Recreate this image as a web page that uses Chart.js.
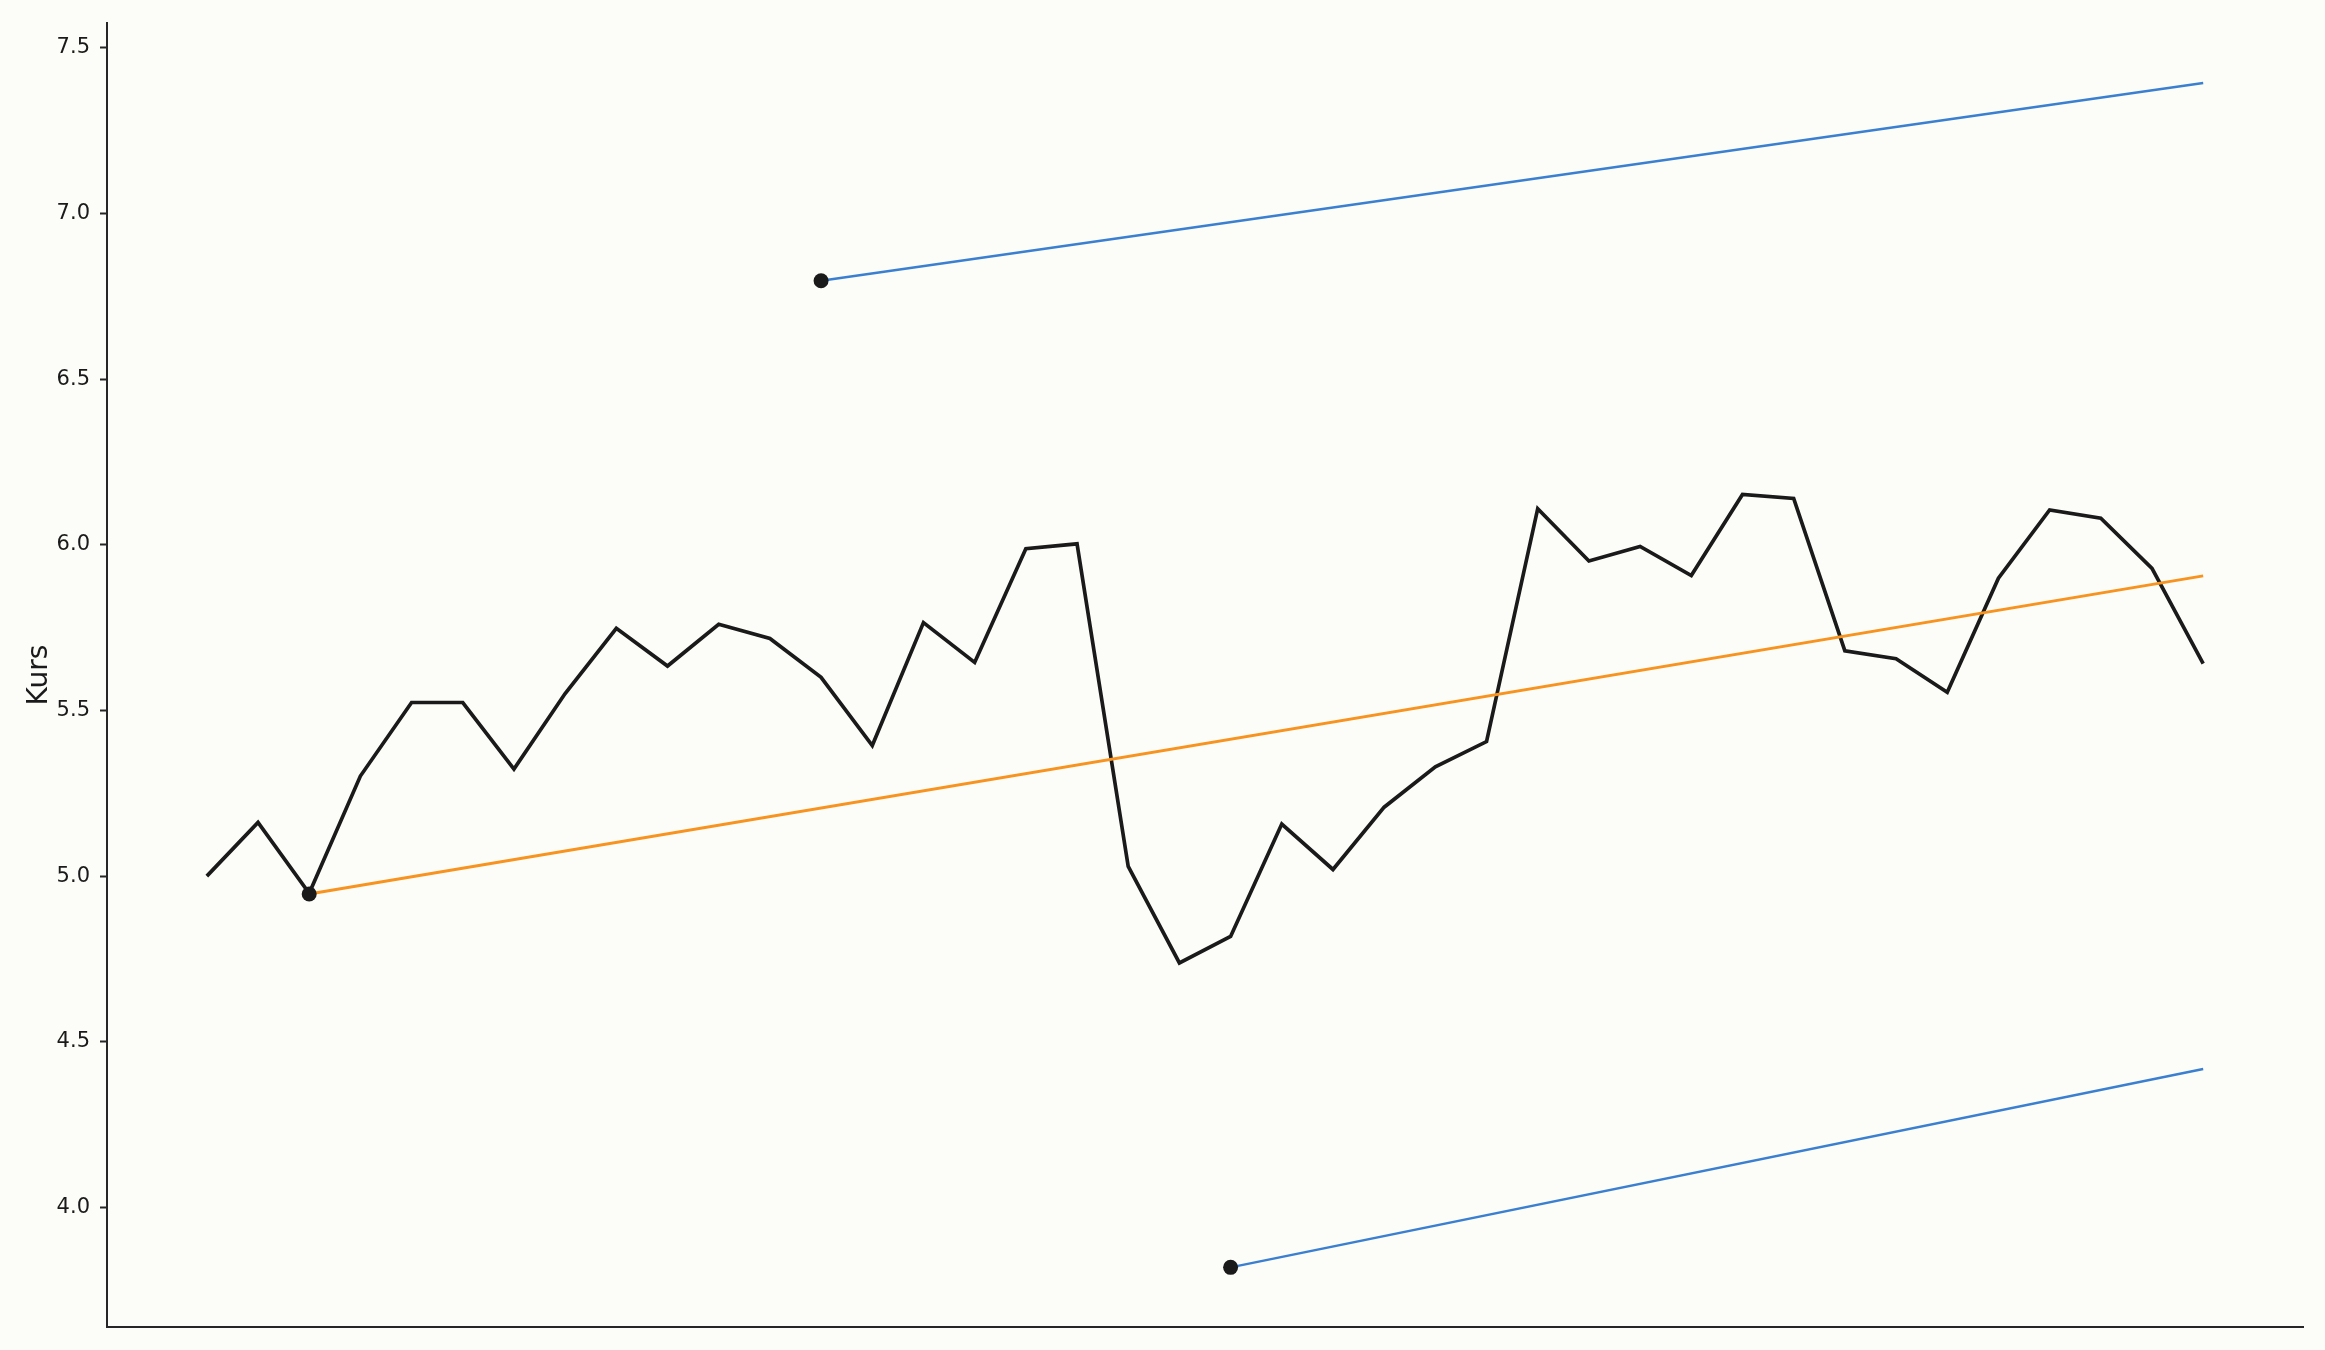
<!DOCTYPE html>
<html>
<head>
<meta charset="utf-8">
<script src="https://cdn.jsdelivr.net/npm/chart.js@4.4.1/dist/chart.umd.min.js"></script>
<style>
html,body{margin:0;padding:0;background:#fcfdf8;}
canvas{display:block;}
</style>
</head>
<body>
<canvas id="c" width="2325" height="1350"></canvas>
<script>
// ---- data ----
const priceIndex = [0,1,2,3,4,5,6,7,8,9,10,11,12,13,14,15,16,17,18,19,20,21,22,23,24,25,26,27,28,29,30,31,32,33,34,35,36,37,38,39];
const priceValues = [5.000,5.162,4.948,5.302,5.524,5.524,5.323,5.551,5.748,5.634,
                     5.760,5.717,5.600,5.394,5.765,5.645,5.988,6.003,5.029,4.738,
                     4.818,5.157,5.020,5.208,5.330,5.406,6.109,5.951,5.995,5.907,
                     6.152,6.140,5.680,5.656,5.555,5.899,6.105,6.080,5.929,5.641];
const trendX = [2, 39];
const trendY = [4.946, 5.906];
const upperX = [12, 39];
const upperY = [6.797, 7.394];
const lowerX = [20, 39];
const lowerY = [3.819, 4.418];
const pivotX = [2, 12, 20];
const pivotY = [4.946, 6.797, 3.819];
const yTicks = [4.0, 4.5, 5.0, 5.5, 6.0, 6.5, 7.0, 7.5];
const yAxisTitle = 'Kurs';

const pts = (xs, ys) => xs.map((x, i) => ({x: x, y: ys[i]}));

const bgPlugin = {
  id: 'bg',
  beforeDraw(chart) {
    const ctx = chart.ctx;
    ctx.save();
    ctx.fillStyle = '#fcfdf8';
    ctx.fillRect(0, 0, chart.width, chart.height);
    ctx.restore();
  }
};

new Chart(document.getElementById('c'), {
  type: 'line',
  data: {
    datasets: [
      { label: 'pivots', data: pts(pivotX, pivotY), showLine: false,
        pointRadius: 7.5, pointBackgroundColor: '#1a1a1a', pointBorderWidth: 0, borderColor: '#1a1a1a' },
      { label: 'trend', data: pts(trendX, trendY), borderColor: '#f7931e', borderWidth: 2.9, pointRadius: 0 },
      { label: 'upper', data: pts(upperX, upperY), borderColor: '#3a7fd0', borderWidth: 2.5, pointRadius: 0 },
      { label: 'lower', data: pts(lowerX, lowerY), borderColor: '#3a7fd0', borderWidth: 2.5, pointRadius: 0 },
      { label: 'price', data: pts(priceIndex, priceValues), borderColor: '#1a1a1a', borderWidth: 3.7, pointRadius: 0 }
    ]
  },
  options: {
    responsive: false,
    animation: false,
    devicePixelRatio: 1,
    layout: { padding: { left: 0, right: 22, top: 23, bottom: 23 } },
    plugins: { legend: { display: false }, tooltip: { enabled: false } },
    elements: { line: { tension: 0, borderJoinStyle: 'miter' }, point: { hoverRadius: 0 } },
    scales: {
      x: {
        type: 'linear', min: -1.95, max: 40.95,
        grid: { display: false, drawTicks: false },
        ticks: { display: false },
        border: { display: true, color: '#262626', width: 2 },
        afterFit(s) { s.height = 0; }
      },
      y: {
        type: 'linear', min: 3.639, max: 7.575,
        afterBuildTicks(s) { s.ticks = yTicks.map(v => ({ value: v })); },
        ticks: {
          callback: v => Number(v).toFixed(1),
          font: { family: 'DejaVu Sans', size: 21 },
          color: '#1a1a1a',
          padding: 10
        },
        grid: { drawOnChartArea: false, drawTicks: true, tickLength: 7, tickColor: '#262626', tickWidth: 2 },
        border: { display: true, color: '#262626', width: 2 },
        title: { display: true, text: yAxisTitle, font: { family: 'DejaVu Sans', size: 28 }, color: '#1a1a1a', padding: { top: 23, bottom: 0 } },
        afterFit(s) { s.width = 107; }
      }
    }
  },
  plugins: [bgPlugin]
});
</script>
</body>
</html>
